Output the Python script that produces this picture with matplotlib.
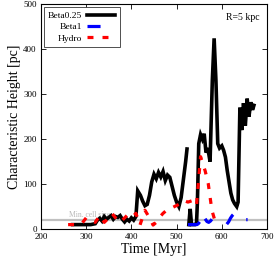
import numpy as np
import matplotlib
matplotlib.use("Agg")
import matplotlib.pyplot as plt

plt.rcParams['font.family'] = ['Liberation Serif', 'DejaVu Serif']
plt.rcParams['lines.scale_dashes'] = False

# Beta0.25 (NaN marks a gap in the curve)
t_beta025 = [270, 280, 290, 300, 310, 320, 325, 330, 335, 340, 345, 350, 355, 360, 365, 370,
             375, 380, 385, 390, 395, 400, 405, 410, 414, 420, 425, 430, 435, 440, 445, 450,
             455, 460, 465, 470, 475, 480, 485, 490, 495, 500, 505, 510, 515, 520, 523,
             524,
             527, 530, 533, 537, 541, 544, 546, 549, 553, 557, 561, 565, 569, 574, 579, 583,
             587, 591, 595, 600, 604, 608, 612, 616, 620, 624, 628, 633, 636, 640, 644, 648,
             652, 656, 660, 664, 668, 671]
h_beta025 = [10, 10, 10, 10, 10, 12, 20, 24, 18, 28, 22, 26, 30, 22, 28, 26,
             30, 22, 16, 22, 18, 25, 20, 28, 85, 75, 62, 52, 55, 75, 105, 122,
             112, 126, 116, 128, 108, 120, 115, 95, 75, 60, 50, 70, 110, 150, 178,
             np.nan,
             10, 45, 10, 10, 10, 12, 60, 190, 210, 200, 212, 170, 180, 150, 330, 424,
             330, 190, 180, 185, 175, 160, 130, 105, 80, 65, 57, 50, 60, 270, 220, 280,
             230, 290, 250, 282, 265, 275]

# Beta1 (NaN marks gaps between visible pieces)
t_beta1 = [525, 535, 545, 548, 551,
           552,
           563, 567, 571, 575, 578,
           579,
           611, 615, 619, 623, 625,
           626,
           654, 657]
h_beta1 = [10, 10, 10, 12, 16,
           np.nan,
           23, 17, 15, 18, 22,
           np.nan,
           11, 16, 24, 30, 32,
           np.nan,
           21, 21]

# Hydro
t_hydro = [260, 275, 290, 300, 310, 320, 330, 340, 350, 357, 365, 375, 385, 395, 405, 410,
           419, 430, 440, 448, 455, 463, 470, 478, 485, 493, 505, 515, 525, 537, 544, 548,
           553, 558, 563, 570, 578, 585]
h_hydro = [10, 10, 12, 25, 20, 15, 30, 15, 25, 35, 25, 15, 25, 35, 30, 35,
           9, 42, 25, 9, 15, 27, 35, 42, 45, 49, 55, 64, 60, 64, 53, 101,
           161, 145, 130, 101, 42, 18]

min_cell = 20
x_ticks = [200, 300, 400, 500, 600, 700]
y_ticks = [0, 100, 200, 300, 400, 500]

fig = plt.figure(figsize=(2.75, 2.58), dpi=100)
ax = fig.add_axes([0.149, 0.112, 0.822, 0.872])

ax.axhline(min_cell, color='#c0c0c0', lw=1.6, zorder=1)
ax.text(262, min_cell + 2, 'Min. cell size', color='#b8b8b8', fontsize=5.5,
        va='bottom', ha='left', zorder=1)

ax.plot(t_beta025, h_beta025, color='black', lw=2.6, label='Beta0.25', zorder=3,
        solid_joinstyle='miter')
ax.plot(t_beta1, h_beta1, color='#0000ff', lw=2.3, label='Beta1', zorder=4,
        linestyle=(0, (9.4, 11.0)), dash_capstyle='butt')
ax.plot(t_hydro, h_hydro, color='#ff0000', lw=2.3, label='Hydro', zorder=5,
        linestyle=(0, (4.3, 6.5)), dash_capstyle='butt')

ax.set_xlim(200, 700)
ax.set_ylim(0, 500)
ax.set_xticks(x_ticks)
ax.set_yticks(y_ticks)
ax.tick_params(direction='in', top=True, right=True, length=3.5, width=0.6,
               labelsize=6.5, pad=3)
for s in ax.spines.values():
    s.set_linewidth(0.8)

ax.set_xlabel('Time [Myr]', fontsize=10, labelpad=1)
ax.set_ylabel('Characteristic Height [pc]', fontsize=10, labelpad=2)

ax.text(0.969, 0.942, 'R=5 kpc', transform=ax.transAxes, ha='right', va='center',
        fontsize=7)

leg = ax.legend(loc='upper left', fontsize=6.8, markerfirst=False, fancybox=False,
                framealpha=1, edgecolor='#333333', handlelength=3.0,
                borderaxespad=0.3, labelspacing=0.3, handletextpad=0.5,
                borderpad=0.45)
leg.get_frame().set_linewidth(0.6)

fig.savefig('out.png', dpi=100)
